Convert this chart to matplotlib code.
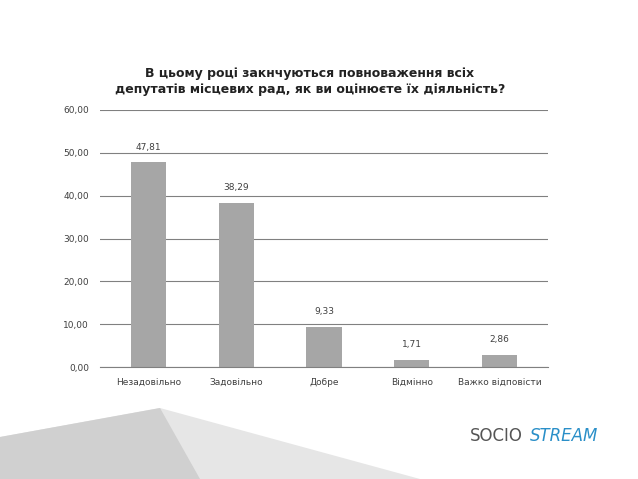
import matplotlib.pyplot as plt
from matplotlib.patches import Polygon

categories = ['Незадовільно', 'Задовільно', 'Добре', 'Відмінно', 'Важко відповісти']
values = [47.81, 38.29, 9.33, 1.71, 2.86]
yticks = [0, 10, 20, 30, 40, 50, 60]

fig = plt.figure(figsize=(6.38, 4.79), dpi=100)

# background decoration at bottom
fig.patches.append(Polygon([(0, 1 - 437 / 479), (160, 1 - 408 / 479), (420, 0), (0, 0)],
                           closed=True, transform=None, fc='#e6e6e6', ec='none', zorder=0))
fig.patches.append(Polygon([(0, 1 - 437 / 479), (160, 1 - 408 / 479), (200, 0), (0, 0)],
                           closed=True, transform=None, fc='#d0d0d0', ec='none', zorder=0))
for p in fig.patches:
    xy = p.get_xy()
    p.set_xy([(x / 638 if x > 1 else x, y) for x, y in xy])
    p.set_transform(fig.transFigure)

ax = fig.add_axes([100 / 638, 1 - 367 / 479, 448 / 638, 257 / 479])
x = range(len(categories))
ax.bar(x, values, width=0.4, color='#a6a6a6', zorder=2)
for i, v in enumerate(values):
    ax.text(i, v + 2.5, f'{v:.2f}'.replace('.', ','), ha='center', va='bottom',
            fontsize=6.5, color='#404040')

ax.set_ylim(0, 60)
ax.set_xlim(-0.55, len(categories) - 0.45)
ax.set_yticks(yticks)
ax.set_yticklabels([f'{t:.2f}'.replace('.', ',') for t in yticks], fontsize=6.5, color='#404040')
ax.set_xticks(list(x))
ax.set_xticklabels(categories, fontsize=6.5, color='#404040')
ax.tick_params(length=0, pad=8)
ax.grid(axis='y', color='#808080', linewidth=0.8, zorder=1)
for s in ['top', 'right', 'left']:
    ax.spines[s].set_visible(False)
ax.spines['bottom'].set_color('#808080')

fig.text(310 / 638, 1 - 82 / 479,
         'В цьому році закнчуються повноваження всіх\nдепутатів місцевих рад, як ви оцінюєте їх діяльність?',
         ha='center', va='center', fontsize=9, fontweight='bold', color='#222222', linespacing=1.3)

# logo
fig.text(470 / 638, 1 - 436 / 479, 'SOCIO', fontsize=12, color='#555555', va='center')
fig.text(530 / 638, 1 - 436 / 479, 'STREAM', fontsize=12, color='#2a8fc8', style='italic', va='center')

fig.savefig('out.png', dpi=100)
